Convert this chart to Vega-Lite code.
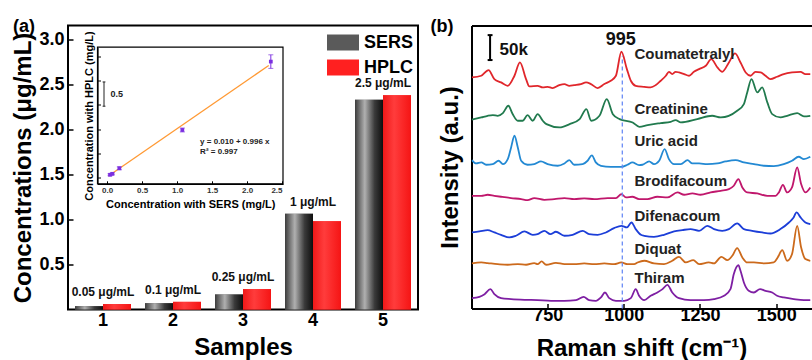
{
  "$schema": "https://vega.github.io/schema/vega-lite/v6.json",
  "padding": {"left": 10, "top": 16.5, "right": 0, "bottom": 0},
  "spacing": 11.5,
  "resolve": {"scale": {"color": "independent"}},
  "config": {
    "font": "Liberation Sans",
    "axis": {"grid": false, "labelFont": "Liberation Sans", "titleFont": "Liberation Sans", "labelFontWeight": "bold", "titleFontWeight": "bold", "labelColor": "#000", "titleColor": "#000", "domainColor": "#000", "tickColor": "#000", "domainWidth": 2, "tickWidth": 1.5},
    "legend": {"labelFont": "Liberation Sans"},
    "title": {"font": "Liberation Sans", "fontWeight": "bold", "color": "#000"},
    "text": {"font": "Liberation Sans", "fontWeight": "bold"}
  },
  "datasets": {
    "bars": [
      {"sample": "1", "method": "SERS", "value": 0.037}, {"sample": "1", "method": "HPLC", "value": 0.06},
      {"sample": "2", "method": "SERS", "value": 0.07}, {"sample": "2", "method": "HPLC", "value": 0.085},
      {"sample": "3", "method": "SERS", "value": 0.167}, {"sample": "3", "method": "HPLC", "value": 0.226},
      {"sample": "4", "method": "SERS", "value": 1.063}, {"sample": "4", "method": "HPLC", "value": 0.98},
      {"sample": "5", "method": "SERS", "value": 2.33}, {"sample": "5", "method": "HPLC", "value": 2.38}
    ],
    "barLabels": [
      {"sample": "1", "top": 0.06, "label": "0.05 μg/mL"},
      {"sample": "2", "top": 0.085, "label": "0.1 μg/mL"},
      {"sample": "3", "top": 0.226, "label": "0.25 μg/mL"},
      {"sample": "4", "top": 1.063, "label": "1 μg/mL"},
      {"sample": "5", "top": 2.38, "label": "2.5 μg/mL"}
    ],
    "inset": [
      {"sx": 0.043, "hy": 0.056, "lo": 0.036, "hi": 0.076},
      {"sx": 0.076, "hy": 0.076, "lo": 0.056, "hi": 0.096},
      {"sx": 0.176, "hy": 0.19, "lo": 0.16, "hi": 0.22},
      {"sx": 1.076, "hy": 0.98, "lo": 0.94, "hi": 1.02},
      {"sx": 2.34, "hy": 2.39, "lo": 2.25, "hi": 2.53}
    ],
    "fit": [{"sx": 0.02, "hy": 0.03}, {"sx": 2.31, "hy": 2.31}],
    "eq": [
      {"sx": 1.33, "hy": 0.73, "t": "y = 0.010 + 0.996 x"},
      {"sx": 1.33, "hy": 0.52, "t": "R² = 0.997"}
    ],
    "insetBar": [
      {"sx": -0.043, "sx2": -0.043, "hy": 1.47, "hy2": 1.97},
      {"sx": -0.063, "sx2": -0.023, "hy": 1.47, "hy2": 1.47},
      {"sx": -0.063, "sx2": -0.023, "hy": 1.97, "hy2": 1.97}
    ],
    "insetBarLabel": [{"sx": 0.05, "hy": 1.72, "t": "0.5"}],
    "spectra": [
      {"s":"Coumatetralyl","w":501,"v":432.7},{"s":"Coumatetralyl","w":532,"v":435.9},{"s":"Coumatetralyl","w":556,"v":446.5},{"s":"Coumatetralyl","w":575,"v":429.6},{"s":"Coumatetralyl","w":597,"v":423.4},{"s":"Coumatetralyl","w":619,"v":417.1},{"s":"Coumatetralyl","w":641,"v":435.9},{"s":"Coumatetralyl","w":659,"v":460.8},{"s":"Coumatetralyl","w":679,"v":429.6},{"s":"Coumatetralyl","w":690,"v":415.9},{"s":"Coumatetralyl","w":717,"v":417.1},{"s":"Coumatetralyl","w":734,"v":414},{"s":"Coumatetralyl","w":750,"v":415.2},{"s":"Coumatetralyl","w":766,"v":412.8},{"s":"Coumatetralyl","w":788,"v":418.4},{"s":"Coumatetralyl","w":805,"v":420.3},{"s":"Coumatetralyl","w":821,"v":417.1},{"s":"Coumatetralyl","w":837,"v":418.4},{"s":"Coumatetralyl","w":859,"v":420.3},{"s":"Coumatetralyl","w":876,"v":423.4},{"s":"Coumatetralyl","w":892,"v":420.3},{"s":"Coumatetralyl","w":914,"v":412.8},{"s":"Coumatetralyl","w":936,"v":420.3},{"s":"Coumatetralyl","w":957,"v":426.5},{"s":"Coumatetralyl","w":974,"v":435.9},{"s":"Coumatetralyl","w":992,"v":480.8},{"s":"Coumatetralyl","w":1010,"v":448.3},{"s":"Coumatetralyl","w":1023,"v":426.5},{"s":"Coumatetralyl","w":1039,"v":417.1},{"s":"Coumatetralyl","w":1067,"v":415.2},{"s":"Coumatetralyl","w":1088,"v":414},{"s":"Coumatetralyl","w":1105,"v":418.4},{"s":"Coumatetralyl","w":1121,"v":426.5},{"s":"Coumatetralyl","w":1138,"v":435.9},{"s":"Coumatetralyl","w":1148,"v":443.3},{"s":"Coumatetralyl","w":1159,"v":439},{"s":"Coumatetralyl","w":1170,"v":443.3},{"s":"Coumatetralyl","w":1181,"v":442.1},{"s":"Coumatetralyl","w":1198,"v":439},{"s":"Coumatetralyl","w":1214,"v":435.9},{"s":"Coumatetralyl","w":1230,"v":443.3},{"s":"Coumatetralyl","w":1247,"v":448.3},{"s":"Coumatetralyl","w":1269,"v":454.6},{"s":"Coumatetralyl","w":1287,"v":467.1},{"s":"Coumatetralyl","w":1307,"v":451.5},{"s":"Coumatetralyl","w":1323,"v":443.3},{"s":"Coumatetralyl","w":1345,"v":460.8},{"s":"Coumatetralyl","w":1365,"v":477.7},{"s":"Coumatetralyl","w":1383,"v":460.8},{"s":"Coumatetralyl","w":1400,"v":442.1},{"s":"Coumatetralyl","w":1416,"v":435.9},{"s":"Coumatetralyl","w":1432,"v":443.3},{"s":"Coumatetralyl","w":1449,"v":442.1},{"s":"Coumatetralyl","w":1465,"v":435.9},{"s":"Coumatetralyl","w":1481,"v":429.6},{"s":"Coumatetralyl","w":1503,"v":434},{"s":"Coumatetralyl","w":1525,"v":439},{"s":"Coumatetralyl","w":1552,"v":442.1},{"s":"Coumatetralyl","w":1580,"v":443.3},{"s":"Coumatetralyl","w":1596,"v":439},{"s":"Coumatetralyl","w":1612,"v":439},
      {"s":"Creatinine","w":501,"v":353.5},{"s":"Creatinine","w":532,"v":357.8},{"s":"Creatinine","w":553,"v":360.9},{"s":"Creatinine","w":570,"v":362.2},{"s":"Creatinine","w":586,"v":360.9},{"s":"Creatinine","w":603,"v":365.9},{"s":"Creatinine","w":621,"v":379.7},{"s":"Creatinine","w":635,"v":364.1},{"s":"Creatinine","w":652,"v":351.6},{"s":"Creatinine","w":668,"v":351.6},{"s":"Creatinine","w":684,"v":362.2},{"s":"Creatinine","w":701,"v":351.6},{"s":"Creatinine","w":717,"v":364.1},{"s":"Creatinine","w":734,"v":351.6},{"s":"Creatinine","w":746,"v":345.3},{"s":"Creatinine","w":789,"v":339.1},{"s":"Creatinine","w":822,"v":345.3},{"s":"Creatinine","w":855,"v":354.7},{"s":"Creatinine","w":877,"v":373.4},{"s":"Creatinine","w":893,"v":351.6},{"s":"Creatinine","w":920,"v":360.9},{"s":"Creatinine","w":944,"v":392.1},{"s":"Creatinine","w":964,"v":364},{"s":"Creatinine","w":986,"v":354.7},{"s":"Creatinine","w":1029,"v":348.4},{"s":"Creatinine","w":1051,"v":340.3},{"s":"Creatinine","w":1078,"v":343.5},{"s":"Creatinine","w":1121,"v":347.2},{"s":"Creatinine","w":1154,"v":349.7},{"s":"Creatinine","w":1170,"v":352.8},{"s":"Creatinine","w":1187,"v":348.5},{"s":"Creatinine","w":1241,"v":354.7},{"s":"Creatinine","w":1290,"v":361},{"s":"Creatinine","w":1318,"v":357.8},{"s":"Creatinine","w":1372,"v":370.3},{"s":"Creatinine","w":1394,"v":382.8},{"s":"Creatinine","w":1405,"v":404.6},{"s":"Creatinine","w":1419,"v":429.6},{"s":"Creatinine","w":1438,"v":404.6},{"s":"Creatinine","w":1454,"v":414},{"s":"Creatinine","w":1471,"v":385.9},{"s":"Creatinine","w":1487,"v":364.1},{"s":"Creatinine","w":1514,"v":357.8},{"s":"Creatinine","w":1536,"v":360.9},{"s":"Creatinine","w":1569,"v":365.9},{"s":"Creatinine","w":1591,"v":359.7},{"s":"Creatinine","w":1612,"v":360.9},
      {"s":"Uric acid","w":501,"v":277.9},{"s":"Uric acid","w":515,"v":271.7},{"s":"Uric acid","w":532,"v":273.6},{"s":"Uric acid","w":548,"v":269.2},{"s":"Uric acid","w":570,"v":270.4},{"s":"Uric acid","w":589,"v":276.7},{"s":"Uric acid","w":603,"v":270.4},{"s":"Uric acid","w":619,"v":279.8},{"s":"Uric acid","w":630,"v":301.7},{"s":"Uric acid","w":641,"v":323.5},{"s":"Uric acid","w":652,"v":301.7},{"s":"Uric acid","w":663,"v":276.7},{"s":"Uric acid","w":684,"v":269.2},{"s":"Uric acid","w":706,"v":270.4},{"s":"Uric acid","w":728,"v":275.4},{"s":"Uric acid","w":750,"v":270.4},{"s":"Uric acid","w":783,"v":267.3},{"s":"Uric acid","w":805,"v":271.7},{"s":"Uric acid","w":821,"v":277.9},{"s":"Uric acid","w":837,"v":269.2},{"s":"Uric acid","w":865,"v":270.4},{"s":"Uric acid","w":881,"v":276.7},{"s":"Uric acid","w":895,"v":286.7},{"s":"Uric acid","w":908,"v":273.6},{"s":"Uric acid","w":925,"v":267.3},{"s":"Uric acid","w":957,"v":265.4},{"s":"Uric acid","w":992,"v":265.4},{"s":"Uric acid","w":1012,"v":269.2},{"s":"Uric acid","w":1028,"v":273.6},{"s":"Uric acid","w":1050,"v":268.6},{"s":"Uric acid","w":1061,"v":269.2},{"s":"Uric acid","w":1083,"v":275.4},{"s":"Uric acid","w":1099,"v":270.4},{"s":"Uric acid","w":1116,"v":276.7},{"s":"Uric acid","w":1134,"v":298.5},{"s":"Uric acid","w":1148,"v":279.8},{"s":"Uric acid","w":1165,"v":270.4},{"s":"Uric acid","w":1187,"v":270.4},{"s":"Uric acid","w":1209,"v":277.9},{"s":"Uric acid","w":1225,"v":271.7},{"s":"Uric acid","w":1247,"v":271.7},{"s":"Uric acid","w":1274,"v":270.4},{"s":"Uric acid","w":1307,"v":271.7},{"s":"Uric acid","w":1334,"v":275.4},{"s":"Uric acid","w":1367,"v":277.9},{"s":"Uric acid","w":1394,"v":273.6},{"s":"Uric acid","w":1427,"v":270.4},{"s":"Uric acid","w":1460,"v":267.3},{"s":"Uric acid","w":1492,"v":266.7},{"s":"Uric acid","w":1525,"v":270.4},{"s":"Uric acid","w":1552,"v":276.7},{"s":"Uric acid","w":1574,"v":284.2},{"s":"Uric acid","w":1591,"v":279.8},{"s":"Uric acid","w":1612,"v":284.2},
      {"s":"Brodifacoum","w":501,"v":211.1},{"s":"Brodifacoum","w":532,"v":211.1},{"s":"Brodifacoum","w":553,"v":213},{"s":"Brodifacoum","w":575,"v":211.1},{"s":"Brodifacoum","w":597,"v":209.3},{"s":"Brodifacoum","w":630,"v":206.8},{"s":"Brodifacoum","w":663,"v":204.9},{"s":"Brodifacoum","w":684,"v":203},{"s":"Brodifacoum","w":706,"v":206.8},{"s":"Brodifacoum","w":739,"v":203.6},{"s":"Brodifacoum","w":772,"v":204.9},{"s":"Brodifacoum","w":805,"v":206.8},{"s":"Brodifacoum","w":837,"v":204.9},{"s":"Brodifacoum","w":870,"v":206.1},{"s":"Brodifacoum","w":903,"v":204.9},{"s":"Brodifacoum","w":947,"v":206.8},{"s":"Brodifacoum","w":974,"v":206.8},{"s":"Brodifacoum","w":992,"v":214.3},{"s":"Brodifacoum","w":1007,"v":208},{"s":"Brodifacoum","w":1028,"v":209.3},{"s":"Brodifacoum","w":1050,"v":204.9},{"s":"Brodifacoum","w":1078,"v":204.9},{"s":"Brodifacoum","w":1110,"v":209.3},{"s":"Brodifacoum","w":1143,"v":208},{"s":"Brodifacoum","w":1176,"v":217.4},{"s":"Brodifacoum","w":1198,"v":213},{"s":"Brodifacoum","w":1225,"v":215.5},{"s":"Brodifacoum","w":1252,"v":213},{"s":"Brodifacoum","w":1285,"v":217.4},{"s":"Brodifacoum","w":1318,"v":220.5},{"s":"Brodifacoum","w":1345,"v":223.6},{"s":"Brodifacoum","w":1361,"v":229.9},{"s":"Brodifacoum","w":1376,"v":242.4},{"s":"Brodifacoum","w":1389,"v":226.7},{"s":"Brodifacoum","w":1405,"v":217.4},{"s":"Brodifacoum","w":1438,"v":215.5},{"s":"Brodifacoum","w":1471,"v":211.1},{"s":"Brodifacoum","w":1498,"v":211.1},{"s":"Brodifacoum","w":1509,"v":217.4},{"s":"Brodifacoum","w":1522,"v":231.7},{"s":"Brodifacoum","w":1536,"v":217.4},{"s":"Brodifacoum","w":1552,"v":226.7},{"s":"Brodifacoum","w":1569,"v":264.2},{"s":"Brodifacoum","w":1582,"v":233},{"s":"Brodifacoum","w":1596,"v":217.4},{"s":"Brodifacoum","w":1612,"v":226.7},
      {"s":"Difenacoum","w":501,"v":142.4},{"s":"Difenacoum","w":526,"v":144.3},{"s":"Difenacoum","w":553,"v":146.8},{"s":"Difenacoum","w":575,"v":142.4},{"s":"Difenacoum","w":597,"v":138},{"s":"Difenacoum","w":624,"v":133.1},{"s":"Difenacoum","w":646,"v":136.2},{"s":"Difenacoum","w":674,"v":144.3},{"s":"Difenacoum","w":701,"v":138},{"s":"Difenacoum","w":717,"v":139.3},{"s":"Difenacoum","w":739,"v":145.5},{"s":"Difenacoum","w":759,"v":139.3},{"s":"Difenacoum","w":777,"v":143.7},{"s":"Difenacoum","w":805,"v":136.2},{"s":"Difenacoum","w":832,"v":138},{"s":"Difenacoum","w":865,"v":145.5},{"s":"Difenacoum","w":886,"v":139.3},{"s":"Difenacoum","w":914,"v":138},{"s":"Difenacoum","w":941,"v":142.4},{"s":"Difenacoum","w":968,"v":150.5},{"s":"Difenacoum","w":992,"v":154.9},{"s":"Difenacoum","w":1010,"v":151.8},{"s":"Difenacoum","w":1025,"v":161.1},{"s":"Difenacoum","w":1039,"v":148.7},{"s":"Difenacoum","w":1056,"v":138},{"s":"Difenacoum","w":1067,"v":136.2},{"s":"Difenacoum","w":1099,"v":134.3},{"s":"Difenacoum","w":1132,"v":138},{"s":"Difenacoum","w":1165,"v":144.3},{"s":"Difenacoum","w":1192,"v":146.8},{"s":"Difenacoum","w":1219,"v":148.7},{"s":"Difenacoum","w":1247,"v":145.5},{"s":"Difenacoum","w":1274,"v":154.9},{"s":"Difenacoum","w":1296,"v":148.7},{"s":"Difenacoum","w":1323,"v":145.5},{"s":"Difenacoum","w":1345,"v":148.7},{"s":"Difenacoum","w":1372,"v":159.3},{"s":"Difenacoum","w":1394,"v":148.7},{"s":"Difenacoum","w":1421,"v":145.5},{"s":"Difenacoum","w":1454,"v":142.4},{"s":"Difenacoum","w":1481,"v":140.5},{"s":"Difenacoum","w":1514,"v":148.7},{"s":"Difenacoum","w":1542,"v":161.1},{"s":"Difenacoum","w":1556,"v":169.3},{"s":"Difenacoum","w":1567,"v":179.9},{"s":"Difenacoum","w":1580,"v":170.5},{"s":"Difenacoum","w":1596,"v":161.1},{"s":"Difenacoum","w":1612,"v":158},
      {"s":"Diquat","w":501,"v":84.4},{"s":"Diquat","w":532,"v":86.2},{"s":"Diquat","w":553,"v":85},{"s":"Diquat","w":586,"v":83.1},{"s":"Diquat","w":619,"v":81.9},{"s":"Diquat","w":652,"v":83.1},{"s":"Diquat","w":679,"v":81.9},{"s":"Diquat","w":706,"v":85},{"s":"Diquat","w":717,"v":83.1},{"s":"Diquat","w":730,"v":88.1},{"s":"Diquat","w":745,"v":81.9},{"s":"Diquat","w":777,"v":85.6},{"s":"Diquat","w":805,"v":83.1},{"s":"Diquat","w":837,"v":83.1},{"s":"Diquat","w":870,"v":84.4},{"s":"Diquat","w":903,"v":83.1},{"s":"Diquat","w":936,"v":84.4},{"s":"Diquat","w":968,"v":83.1},{"s":"Diquat","w":992,"v":86.2},{"s":"Diquat","w":1012,"v":83.1},{"s":"Diquat","w":1034,"v":83.1},{"s":"Diquat","w":1045,"v":86.2},{"s":"Diquat","w":1067,"v":89.4},{"s":"Diquat","w":1099,"v":84.4},{"s":"Diquat","w":1132,"v":83.1},{"s":"Diquat","w":1159,"v":89.4},{"s":"Diquat","w":1181,"v":96.8},{"s":"Diquat","w":1203,"v":86.2},{"s":"Diquat","w":1228,"v":90.6},{"s":"Diquat","w":1247,"v":83.1},{"s":"Diquat","w":1279,"v":86.2},{"s":"Diquat","w":1296,"v":84.4},{"s":"Diquat","w":1320,"v":96.8},{"s":"Diquat","w":1340,"v":90.6},{"s":"Diquat","w":1356,"v":98.7},{"s":"Diquat","w":1372,"v":113.1},{"s":"Diquat","w":1389,"v":95.6},{"s":"Diquat","w":1405,"v":86.2},{"s":"Diquat","w":1427,"v":86.2},{"s":"Diquat","w":1460,"v":84.4},{"s":"Diquat","w":1492,"v":86.2},{"s":"Diquat","w":1505,"v":95.6},{"s":"Diquat","w":1520,"v":109.3},{"s":"Diquat","w":1536,"v":89.4},{"s":"Diquat","w":1552,"v":101.8},{"s":"Diquat","w":1569,"v":154.9},{"s":"Diquat","w":1582,"v":114.3},{"s":"Diquat","w":1596,"v":92.5},{"s":"Diquat","w":1612,"v":89.4},
      {"s":"Thiram","w":501,"v":19.4},{"s":"Thiram","w":526,"v":21.9},{"s":"Thiram","w":543,"v":26.9},{"s":"Thiram","w":562,"v":36.3},{"s":"Thiram","w":575,"v":26.9},{"s":"Thiram","w":597,"v":19.4},{"s":"Thiram","w":630,"v":17.6},{"s":"Thiram","w":674,"v":16.3},{"s":"Thiram","w":717,"v":15.7},{"s":"Thiram","w":761,"v":14.4},{"s":"Thiram","w":805,"v":14.4},{"s":"Thiram","w":843,"v":15.7},{"s":"Thiram","w":868,"v":21.9},{"s":"Thiram","w":886,"v":15.7},{"s":"Thiram","w":908,"v":14.4},{"s":"Thiram","w":925,"v":20.7},{"s":"Thiram","w":938,"v":30},{"s":"Thiram","w":952,"v":19.4},{"s":"Thiram","w":974,"v":14.4},{"s":"Thiram","w":1001,"v":14.4},{"s":"Thiram","w":1023,"v":19.4},{"s":"Thiram","w":1039,"v":36.3},{"s":"Thiram","w":1050,"v":23.8},{"s":"Thiram","w":1067,"v":15.7},{"s":"Thiram","w":1088,"v":23.8},{"s":"Thiram","w":1110,"v":30},{"s":"Thiram","w":1127,"v":36.3},{"s":"Thiram","w":1143,"v":44.4},{"s":"Thiram","w":1159,"v":30},{"s":"Thiram","w":1181,"v":19.4},{"s":"Thiram","w":1219,"v":15.7},{"s":"Thiram","w":1263,"v":15.7},{"s":"Thiram","w":1296,"v":17.6},{"s":"Thiram","w":1329,"v":23.8},{"s":"Thiram","w":1350,"v":36.3},{"s":"Thiram","w":1361,"v":64.4},{"s":"Thiram","w":1369,"v":76.9},{"s":"Thiram","w":1376,"v":81.2},{"s":"Thiram","w":1383,"v":70.6},{"s":"Thiram","w":1394,"v":48.8},{"s":"Thiram","w":1410,"v":33.2},{"s":"Thiram","w":1427,"v":30},{"s":"Thiram","w":1447,"v":36.3},{"s":"Thiram","w":1465,"v":33.2},{"s":"Thiram","w":1487,"v":30},{"s":"Thiram","w":1503,"v":23.8},{"s":"Thiram","w":1525,"v":20.7},{"s":"Thiram","w":1558,"v":17.6},{"s":"Thiram","w":1591,"v":15.7},{"s":"Thiram","w":1612,"v":15.7}
    ],
    "marker": [{"w": 995, "lo": 0, "hi": 473}],
    "scaleBar": [
      {"w": 561, "w2": 561, "lo": 465.3, "hi": 512},
      {"w": 553, "w2": 569, "lo": 512, "hi": 512},
      {"w": 553, "w2": 569, "lo": 465.3, "hi": 465.3}
    ],
    "bigNotes": [{"w": 990, "v": 503, "t": "995"}],
    "barNote": [{"w": 592, "v": 484.5, "t": "50k"}],
    "names": [
      {"w": 1035, "v": 476.5, "t": "Coumatetralyl"},
      {"w": 1035, "v": 374.5, "t": "Creatinine"},
      {"w": 1035, "v": 314, "t": "Uric acid"},
      {"w": 1035, "v": 239, "t": "Brodifacoum"},
      {"w": 1035, "v": 173.6, "t": "Difenacoum"},
      {"w": 1035, "v": 111, "t": "Diquat"},
      {"w": 1035, "v": 58, "t": "Thiram"}
    ]
  },
  "hconcat": [
    {
      "width": 350,
      "height": 284,
      "title": {"text": "(a)", "anchor": "start", "frame": "bounds", "offset": -28, "fontSize": 18, "baseline": "bottom", "dx": 1},
      "view": {"stroke": "#000", "strokeWidth": 2},
      "layer": [
        {
          "layer": [
            {
              "data": {"name": "bars"},
              "mark": {"type": "bar"},
              "encoding": {
                "x": {"field": "sample", "type": "nominal", "scale": {"paddingInner": 0.2, "paddingOuter": 0.1},
                      "axis": {"title": "Samples", "labelAngle": 0, "ticks": false, "labelFontSize": 18, "titleFontSize": 24, "labelPadding": 2, "titlePadding": 6, "domain": false}},
                "xOffset": {"field": "method", "type": "nominal", "scale": {"domain": ["SERS", "HPLC"]}},
                "y": {"field": "value", "type": "quantitative", "scale": {"domain": [0, 3.155], "nice": false},
                      "axis": {"title": "Concentrations (μg/mL)", "values": [0.5, 1, 1.5, 2, 2.5, 3], "format": ".1f", "labelFontSize": 18, "titleFontSize": 24, "tickSize": -5, "labelPadding": 9, "titlePadding": 3, "domain": false}},
                "color": {"field": "method", "type": "nominal",
                          "scale": {"domain": ["SERS", "HPLC"], "range": ["#5a5a5a", "#ff2020"]},
                          "legend": {"orient": "none", "legendX": 259, "legendY": 1, "title": null, "symbolType": "M-1,-0.5H1V0.5H-1Z", "symbolSize": 1024, "labelFontSize": 18, "labelFontWeight": "bold", "labelColor": "#000", "labelOffset": 5, "rowPadding": -9, "symbolStrokeWidth": 0, "symbolOpacity": 1}}
              }
            },
            {
              "data": {"name": "bars"},
              "transform": [{"filter": "datum.method === 'SERS'"}],
              "mark": {"type": "bar", "fill": {"gradient": "linear", "x1": 0, "y1": 0, "x2": 1, "y2": 0, "stops": [{"offset": 0, "color": "#3c3c3c"}, {"offset": 0.35, "color": "#b0b0b0"}, {"offset": 0.7, "color": "#3a3a3a"}, {"offset": 1, "color": "#0e0e0e"}]}},
              "encoding": {
                "x": {"field": "sample", "type": "nominal"},
                "xOffset": {"field": "method", "type": "nominal"},
                "y": {"field": "value", "type": "quantitative"}
              }
            },
            {
              "data": {"name": "bars"},
              "transform": [{"filter": "datum.method === 'HPLC'"}],
              "mark": {"type": "bar", "fill": {"gradient": "linear", "x1": 0, "y1": 0, "x2": 1, "y2": 0, "stops": [{"offset": 0, "color": "#f01818"}, {"offset": 0.4, "color": "#ff3c3c"}, {"offset": 1, "color": "#f51414"}]}},
              "encoding": {
                "x": {"field": "sample", "type": "nominal"},
                "xOffset": {"field": "method", "type": "nominal"},
                "y": {"field": "value", "type": "quantitative"}
              }
            },
            {
              "data": {"name": "barLabels"},
              "mark": {"type": "text", "fontSize": 12, "baseline": "bottom", "dy": -5, "color": "#111"},
              "encoding": {
                "x": {"field": "sample", "type": "nominal"},
                "y": {"field": "top", "type": "quantitative"},
                "text": {"field": "label"}
              }
            }
          ]
        },
        {
          "layer": [
            {
              "data": {"values": [{}]},
              "mark": {"type": "rect", "fill": null, "stroke": "#000", "strokeWidth": 1.2},
              "encoding": {
                "x": {"datum": -0.136, "type": "quantitative", "scale": {"domain": [-0.136, 2.514], "range": [29.5, 215], "nice": false, "zero": false},
                      "axis": {"orient": "bottom", "offset": -125.7, "title": "Concentration with SERS (mg/L)", "values": [0, 0.5, 1, 1.5, 2, 2.5], "format": ".1f", "labelFontSize": 8, "labelColor": "#333", "titleFontSize": 11, "tickSize": -3, "tickWidth": 1, "domainWidth": 1.2, "labelPadding": 6, "titlePadding": 4}},
                "x2": {"datum": 2.514},
                "y": {"datum": -0.13, "type": "quantitative", "scale": {"domain": [-0.13, 2.687], "range": [158.3, 21.7], "nice": false, "zero": false},
                      "axis": {"orient": "left", "offset": -29.5, "title": "Concentration with HPLC (mg/L)", "values": [0, 0.5, 1, 1.5, 2, 2.5], "labels": false, "titleFontSize": 11, "tickSize": -3, "tickWidth": 1, "domainWidth": 1.2, "titlePadding": 3}},
                "y2": {"datum": 2.687}
              }
            },
            {
              "data": {"name": "fit"},
              "mark": {"type": "line", "color": "#ff9933", "strokeWidth": 1.3},
              "encoding": {
                "x": {"field": "sx", "type": "quantitative"},
                "y": {"field": "hy", "type": "quantitative"}
              }
            },
            {
              "data": {"name": "inset"},
              "mark": {"type": "rule", "color": "#7b2fe0", "strokeWidth": 1},
              "encoding": {
                "x": {"field": "sx", "type": "quantitative"},
                "y": {"field": "lo", "type": "quantitative"},
                "y2": {"field": "hi"}
              }
            },
            {
              "data": {"name": "inset"},
              "mark": {"type": "tick", "orient": "horizontal", "color": "#7b2fe0", "size": 5, "thickness": 1},
              "encoding": {
                "x": {"field": "sx", "type": "quantitative"},
                "y": {"field": "lo", "type": "quantitative"}
              }
            },
            {
              "data": {"name": "inset"},
              "mark": {"type": "tick", "orient": "horizontal", "color": "#7b2fe0", "size": 5, "thickness": 1},
              "encoding": {
                "x": {"field": "sx", "type": "quantitative"},
                "y": {"field": "hi", "type": "quantitative"}
              }
            },
            {
              "data": {"name": "inset"},
              "mark": {"type": "point", "shape": "square", "filled": true, "color": "#7b2fe0", "size": 14, "opacity": 1},
              "encoding": {
                "x": {"field": "sx", "type": "quantitative"},
                "y": {"field": "hy", "type": "quantitative"}
              }
            },
            {
              "data": {"name": "eq"},
              "mark": {"type": "text", "fontSize": 8, "align": "left", "baseline": "middle", "color": "#222"},
              "encoding": {
                "x": {"field": "sx", "type": "quantitative"},
                "y": {"field": "hy", "type": "quantitative"},
                "text": {"field": "t"}
              }
            },
            {
              "data": {"name": "insetBar"},
              "mark": {"type": "rule", "color": "#222", "strokeWidth": 1},
              "encoding": {
                "x": {"field": "sx", "type": "quantitative"},
                "x2": {"field": "sx2"},
                "y": {"field": "hy", "type": "quantitative"},
                "y2": {"field": "hy2"}
              }
            },
            {
              "data": {"name": "insetBarLabel"},
              "mark": {"type": "text", "fontSize": 9, "align": "left", "baseline": "middle", "color": "#222"},
              "encoding": {
                "x": {"field": "sx", "type": "quantitative"},
                "y": {"field": "hy", "type": "quantitative"},
                "text": {"field": "t"}
              }
            }
          ]
        }
      ],
      "resolve": {"scale": {"x": "independent", "y": "independent"}, "axis": {"x": "independent", "y": "independent"}}
    },
    {
      "width": 340,
      "height": 283,
      "title": {"text": "(b)", "anchor": "start", "frame": "bounds", "offset": -28, "fontSize": 18, "baseline": "bottom", "dx": -8},
      "view": {"stroke": null},
      "layer": [
        {
          "data": {"name": "spectra"},
          "mark": {"type": "line", "interpolate": "monotone", "strokeWidth": 1.8, "clip": true},
          "encoding": {
            "x": {"field": "w", "type": "quantitative", "scale": {"domain": [500, 1616], "nice": false, "zero": false},
                  "axis": {"orient": "bottom", "title": "Raman shift (cm⁻¹)", "values": [750, 1000, 1250, 1500], "format": "d", "labelFontSize": 18, "titleFontSize": 24, "tickSize": -5, "labelPadding": 2.5, "titlePadding": 12}},
            "y": {"field": "v", "type": "quantitative", "scale": {"domain": [0, 530], "nice": false},
                  "axis": {"title": "Intensity (a.u.)", "labels": false, "ticks": false, "titleFontSize": 24, "titlePadding": 9}},
            "color": {"field": "s", "type": "nominal", "legend": null,
                      "scale": {"domain": ["Coumatetralyl", "Creatinine", "Uric acid", "Brodifacoum", "Difenacoum", "Diquat", "Thiram"],
                                "range": ["#e0262b", "#217a4e", "#2389d3", "#c0176c", "#1c3ed8", "#cc6a1c", "#7e1fa3"]}}
          }
        },
        {
          "data": {"name": "marker"},
          "mark": {"type": "rule", "color": "#6a8cf5", "strokeDash": [4, 3], "strokeWidth": 1.3},
          "encoding": {
            "x": {"field": "w", "type": "quantitative", "axis": {"orient": "top", "labels": false, "ticks": false, "title": null}},
            "y": {"field": "lo", "type": "quantitative"},
            "y2": {"field": "hi"}
          }
        },
        {
          "data": {"name": "scaleBar"},
          "mark": {"type": "rule", "color": "#000", "strokeWidth": 2},
          "encoding": {
            "x": {"field": "w", "type": "quantitative", "axis": null},
            "x2": {"field": "w2"},
            "y": {"field": "lo", "type": "quantitative"},
            "y2": {"field": "hi"}
          }
        },
        {
          "data": {"name": "bigNotes"},
          "mark": {"type": "text", "fontSize": 18, "align": "center", "baseline": "middle", "color": "#111"},
          "encoding": {
            "x": {"field": "w", "type": "quantitative", "axis": null},
            "y": {"field": "v", "type": "quantitative"},
            "text": {"field": "t"}
          }
        },
        {
          "data": {"name": "barNote"},
          "mark": {"type": "text", "fontSize": 17, "align": "left", "baseline": "middle", "color": "#111"},
          "encoding": {
            "x": {"field": "w", "type": "quantitative", "axis": null},
            "y": {"field": "v", "type": "quantitative"},
            "text": {"field": "t"}
          }
        },
        {
          "data": {"name": "names"},
          "mark": {"type": "text", "fontSize": 15, "align": "left", "baseline": "middle", "color": "#222"},
          "encoding": {
            "x": {"field": "w", "type": "quantitative", "axis": null},
            "y": {"field": "v", "type": "quantitative"},
            "text": {"field": "t"}
          }
        }
      ],
      "resolve": {"axis": {"x": "independent"}}
    }
  ]
}
